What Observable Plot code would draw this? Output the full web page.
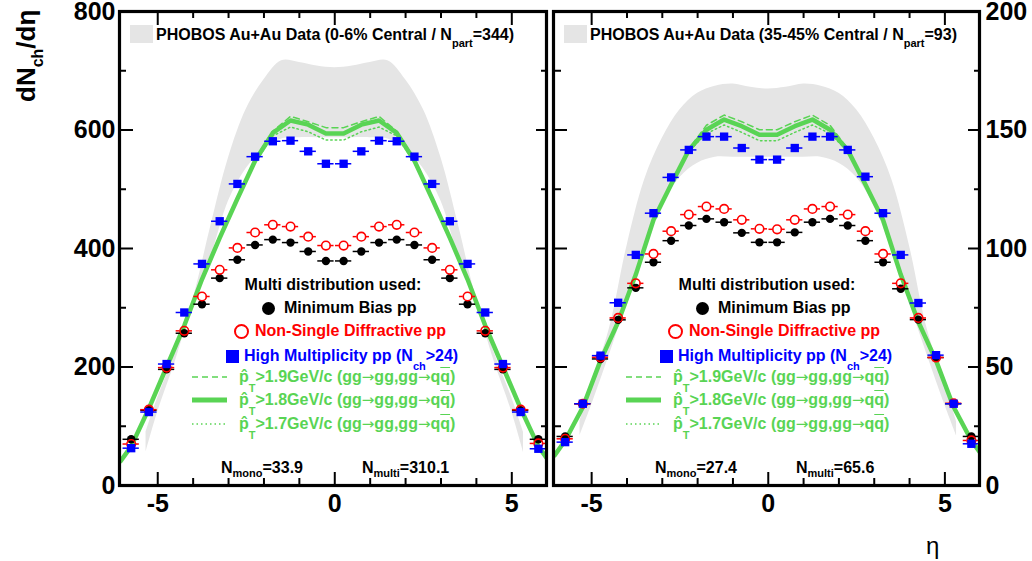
<!DOCTYPE html>
<html><head><meta charset="utf-8">
<script src="https://cdn.jsdelivr.net/npm/d3@7"></script>
<script src="https://cdn.jsdelivr.net/npm/@observablehq/plot@0.6"></script>
<style>
html,body{margin:0;padding:0;background:#fff;}
#wrap{position:relative;width:1032px;height:561px;overflow:hidden;font-family:'Liberation Sans',Arial,Helvetica,sans-serif;}
.pl{position:absolute;top:0;}
.t{position:absolute;white-space:nowrap;font-weight:bold;font-size:16px;line-height:20px;}
.s{font-size:11px;position:relative;top:9px;}
.ov{text-decoration:overline;}
.ar{font-family:'DejaVu Sans',sans-serif;font-weight:normal;font-size:15px;}
.sym{position:absolute;overflow:visible;}
</style></head><body><div id="wrap"></div>
<script>
// ---------------- data ----------------
const etaBins = [-5.75,-5.25,-4.75,-4.25,-3.75,-3.25,-2.75,-2.25,-1.75,-1.25,-0.75,-0.25,0.25,0.75,1.25,1.75,2.25,2.75,3.25,3.75,4.25,4.75,5.25,5.75];
const modelEta = [-6.05,-5.75,-5.25,-4.75,-4.25,-3.75,-3.25,-2.75,-2.25,-1.75,-1.25,-0.75,-0.25,0.25,0.75,1.25,1.75,2.25,2.75,3.25,3.75,4.25,4.75,5.25,5.75,6.05];
const bandEta = [-5.33,-5,-4.5,-4,-3.5,-3,-2.5,-2,-1.5,-1,-0.5,0,0.5,1,1.5,2,2.5,3,3.5,4,4.5,5,5.33];

// left panel: 0-6% central (Npart=344)
const leftMinBias = [78,127,196,257,306,350,381,406,415,410,395,379,379,395,410,415,406,381,350,306,257,196,127,78];
const leftNSD     = [70,128,199,261,319,364,401,427,440,437,420,405,405,420,437,440,427,401,364,319,261,199,128,71];
const leftHighMult= [63,124,205,292,374,446,509,555,581,582,564,543,543,564,582,581,555,509,446,374,292,205,124,62];
const leftPt19 = [42,67,131,202,272,350,421,487,551,598,623,614,604,604,614,623,598,551,487,421,350,272,202,131,67,42];
const leftPt18 = [41,66,130,200,270,348,418,484,548,595,616,609,594,594,609,616,595,548,484,418,348,270,200,130,66,41];
const leftPt17 = [40,65,129,198,268,346,415,481,545,590,605,597,583,583,597,605,590,545,481,415,346,268,198,129,65,40];
const leftBandHigh = [90,148,225,315,438,553,635,685,717,714,708,705,708,714,717,685,635,553,438,315,225,148,90];
const leftBandLow  = [56,124,210,308,385,480,535,568,585,587,587,587,587,587,585,568,535,480,385,308,210,124,56];

// right panel: 35-45% central (Npart=93)
const rightMinBias = [20.7,34.5,53.4,69.9,83.4,94.2,103.3,109.7,112.5,111.1,106.6,102.6,102.6,106.8,111.1,112.5,109.7,103.3,94.2,83,70,54,34.5,20.7];
const rightNSD     = [19.7,34.5,54.1,70.7,85.3,97.7,107.3,114.3,117.7,116.7,112.1,108.3,108.1,112.1,116.7,117.7,114.3,107.3,97.7,85.3,70.7,54,34.7,19];
const rightHighMult= [18.3,34.5,54.8,77.1,97.3,114.9,130,141.6,147.2,147.2,142.4,137.5,137.5,142.4,147.2,147.2,141.6,130.3,114.9,97.3,77,55,34.5,17.6];
const rightPt19 = [13,19.5,33.5,53.2,69.5,89.5,112.5,127.5,142,152,156.3,153.5,150.1,150.1,153.5,156.3,152,142,127.5,112.5,89.5,69.5,53.2,33.5,19.5,13];
const rightPt18 = [12.7,19,33,52.7,69,89,112,127,141.5,150.1,154.4,151.6,148,148,151.6,154.4,150.1,141.5,127,112,89,69,52.7,33,19,12.7];
const rightPt17 = [12.4,18.5,32.5,52.2,68.5,88.5,111.5,126.5,141,148.5,152.1,149,145.5,145.5,149,152.1,148.5,141,126.5,111.5,88.5,68.5,52.2,32.5,18.5,12.4];
const rightBandHigh = [27,43,66,101,129,146.5,158.5,165.5,168.5,169.4,168,167.3,168,169.4,168.5,165.5,158.5,146.5,129,101,66,43,27];
const rightBandLow  = [21,34,55,77,99,118,130,136,138.5,138.5,138.5,138.5,138.5,138.5,138.5,136,130,118,99,77,55,34,21];

// ticks
const xMajor = [-5,0,5];
const xMinor = [-4,-3,-2,-1,1,2,3,4];
const leftYMajor = [0,200,400,600,800];
const leftYMinor = [100,300,500,700];
const rightYMajor = [0,50,100,150,200];
const rightYMinor = [25,75,125,175];

// text
const leftTitle = "PHOBOS Au+Au Data (0-6% Central / N";
const leftTitleEnd = "=344)";
const rightTitle = "PHOBOS Au+Au Data (35-45% Central / N";
const rightTitleEnd = "=93)";
const leftNmono = "33.9", leftNmulti = "310.1";
const rightNmono = "27.4", rightNmulti = "65.6";

// ---------------- drawing ----------------
const GREEN = "#59d454";
const GRAY = "#e5e5e5";
const H = 520, MT = 11, MB = 35;
const xDomain = [-6.08, 5.98];

function rows(xs, vals) { return xs.map((eta, i) => ({eta, v: vals[i]})); }

function panel(o) {
  const fw = o.width - o.marginLeft - o.marginRight;
  const fh = H - MT - MB;
  const band = bandEta.map((eta, i) => ({eta, lo: o.bandLow[i], hi: o.bandHigh[i]}));
  const mb = rows(etaBins, o.minBias), nsd = rows(etaBins, o.nsd), hm = rows(etaBins, o.highMult);
  const p19 = rows(modelEta, o.pt19), p18 = rows(modelEta, o.pt18), p17 = rows(modelEta, o.pt17);
  const tk = {stroke: "black", strokeWidth: 2};
  return Plot.plot({
    width: o.width, height: H,
    marginLeft: o.marginLeft, marginRight: o.marginRight, marginTop: MT, marginBottom: MB,
    style: {fontFamily: "'Liberation Sans', Arial, sans-serif", background: "transparent", color: "black", overflow: "visible"},
    x: {domain: xDomain},
    y: {domain: o.yDomain},
    marks: [
      Plot.areaY(band, {x: "eta", y1: "lo", y2: "hi", fill: GRAY, curve: "catmull-rom"}),
      Plot.line(p19, {x: "eta", y: "v", stroke: GREEN, strokeWidth: 1.5, strokeDasharray: "6,4", clip: true}),
      Plot.line(p17, {x: "eta", y: "v", stroke: GREEN, strokeWidth: 1.5, strokeDasharray: "1.5,3", clip: true}),
      Plot.line(p18, {x: "eta", y: "v", stroke: GREEN, strokeWidth: 4.5, clip: true}),
      Plot.ruleY(mb, {y: "v", x1: d => d.eta - 0.23, x2: d => d.eta + 0.23, stroke: "black", strokeWidth: 1.5}),
      Plot.dot(mb, {x: "eta", y: "v", r: 4.2, fill: "black"}),
      Plot.ruleY(nsd, {y: "v", x1: d => d.eta - 0.23, x2: d => d.eta - 0.12, stroke: "red", strokeWidth: 1.5}),
      Plot.ruleY(nsd, {y: "v", x1: d => d.eta + 0.12, x2: d => d.eta + 0.23, stroke: "red", strokeWidth: 1.5}),
      Plot.dot(nsd, {x: "eta", y: "v", r: 4.3, stroke: "red", strokeWidth: 1.6, fill: "none"}),
      Plot.ruleY(hm, {y: "v", x1: d => d.eta - 0.23, x2: d => d.eta + 0.23, stroke: "blue", strokeWidth: 1.5}),
      Plot.dot(hm, {x: "eta", y: "v", r: 4.7, symbol: "square", fill: "blue"}),
      // inward ticks
      Plot.ruleY(o.yMajor, {...tk, insetRight: fw - o.lenL[0]}),
      Plot.ruleY(o.yMinor, {...tk, insetRight: fw - o.lenL[1]}),
      Plot.ruleY(o.yMajor, {...tk, insetLeft: fw - o.lenR[0]}),
      Plot.ruleY(o.yMinor, {...tk, insetLeft: fw - o.lenR[1]}),
      Plot.ruleX(xMajor, {...tk, insetTop: fh - 13}),
      Plot.ruleX(xMinor, {...tk, insetTop: fh - 7}),
      Plot.ruleX(xMajor, {...tk, insetBottom: fh - 14}),
      Plot.ruleX(xMinor, {...tk, insetBottom: fh - 7}),
      Plot.frame({stroke: "black", strokeWidth: 3.2}),
      Plot.axisX({ticks: xMajor, tickSize: 0, tickPadding: 9, fontSize: 25, fontWeight: "bold", tickFormat: d => String(d), label: null}),
      Plot.axisY({anchor: o.yAnchor, ticks: o.yMajor, tickSize: 0, tickPadding: o.yPad, fontSize: 25, fontWeight: "bold", tickFormat: d => String(d), label: null})
    ]
  });
}

const wrap = document.getElementById("wrap");
function place(el, left) { el.classList.add("pl"); el.style.left = left + "px"; wrap.appendChild(el); }

place(panel({width: 550, marginLeft: 119, marginRight: 4, yDomain: [0, 800], yMajor: leftYMajor, yMinor: leftYMinor,
  minBias: leftMinBias, nsd: leftNSD, highMult: leftHighMult, pt19: leftPt19, pt18: leftPt18, pt17: leftPt17,
  bandLow: leftBandLow, bandHigh: leftBandHigh, yAnchor: "left", yPad: 4, lenL: [14, 7], lenR: [10, 5]}), 0);
place(panel({width: 482, marginLeft: 3, marginRight: 53, yDomain: [0, 200], yMajor: rightYMajor, yMinor: rightYMinor,
  minBias: rightMinBias, nsd: rightNSD, highMult: rightHighMult, pt19: rightPt19, pt18: rightPt18, pt17: rightPt17,
  bandLow: rightBandLow, bandHigh: rightBandHigh, yAnchor: "right", yPad: 6, lenL: [14, 8], lenR: [11, 5]}), 550);

// ---------------- legends & titles (HTML) ----------------
function txt(html, x, cy, color, extra) {
  const d = document.createElement("div");
  d.className = "t";
  d.innerHTML = html;
  d.style.left = x + "px";
  d.style.top = (cy - 10) + "px";
  d.style.color = color || "black";
  if (extra) Object.assign(d.style, extra);
  wrap.appendChild(d);
  return d;
}
function sym(svgInner, x, y, w, h) {
  const ns = "http://www.w3.org/2000/svg";
  const s = document.createElementNS(ns, "svg");
  s.setAttribute("class", "sym");
  s.setAttribute("width", w); s.setAttribute("height", h);
  s.style.left = x + "px"; s.style.top = y + "px";
  s.innerHTML = svgInner;
  wrap.appendChild(s);
}
const AR = `<span class="ar">&#8594;</span>`;
const pT = (v) => `p&#770;<span class="s" style="top:9.5px">T</span>&gt;${v}GeV/c (gg${AR}gg,gg${AR}q<span class="ov">q</span>)`;

function legend(off, title, titleEnd, nmono, nmulti) {
  sym(`<rect x="0" y="0" width="23" height="18" fill="${GRAY}"/>`, 130 + off, 25, 23, 18);
  txt(`${title}<span class="s" style="top:7px">part</span>${titleEnd}`, 156 + off, 35, "black");
  txt("Multi distribution used:", 333 + off, 285, "black", {transform: "translateX(-50%)"});
  sym(`<circle cx="6.5" cy="6.5" r="6.5" fill="black"/>`, 261.5 + off, 301.5, 13, 13);
  txt("Minimum Bias pp", 284 + off, 308, "black");
  sym(`<circle cx="7.5" cy="7.5" r="6.5" fill="none" stroke="red" stroke-width="2"/>`, 233.5 + off, 323.5, 15, 15);
  txt("Non-Single Diffractive pp", 255 + off, 331, "red");
  sym(`<rect x="0" y="0" width="13" height="13" fill="blue"/>`, 225.5 + off, 349.5, 13, 13);
  txt(`High Multiplicity pp (N<span class="s">ch</span>&gt;24)`, 244 + off, 356, "blue");
  sym(`<line x1="0" y1="4" x2="35" y2="4" stroke="${GREEN}" stroke-width="1.5" stroke-dasharray="6,4"/>`, 192 + off, 373, 35, 8);
  txt(pT("1.9"), 239 + off, 377, GREEN);
  sym(`<line x1="0" y1="4" x2="35" y2="4" stroke="${GREEN}" stroke-width="5"/>`, 192 + off, 396, 35, 8);
  txt(pT("1.8"), 239 + off, 400, GREEN);
  sym(`<line x1="0" y1="4" x2="35" y2="4" stroke="${GREEN}" stroke-width="1.5" stroke-dasharray="1.5,3"/>`, 192 + off, 420, 35, 8);
  txt(pT("1.7"), 239 + off, 424, GREEN);
  txt(`N<span class="s" style="top:4px">mono</span>=${nmono}`, 221 + off, 468, "black");
  txt(`N<span class="s" style="top:4px">multi</span>=${nmulti}`, 362 + off, 468, "black");
}
legend(0, leftTitle, leftTitleEnd, leftNmono, leftNmulti);
legend(434, rightTitle, rightTitleEnd, rightNmono, rightNmulti);

// y axis title
txt(`dN<span class="s" style="font-size:16px;top:8px">ch</span>/d&#951;`, 11, 0, "black",
  {fontSize: "26px", lineHeight: "30px", top: "102px", transformOrigin: "0 0", transform: "rotate(-90deg)"});
// x axis title
txt("&#951;", 926, 546, "black", {fontSize: "24px", fontWeight: "normal", lineHeight: "28px", top: "532px"});
</script></body></html>
